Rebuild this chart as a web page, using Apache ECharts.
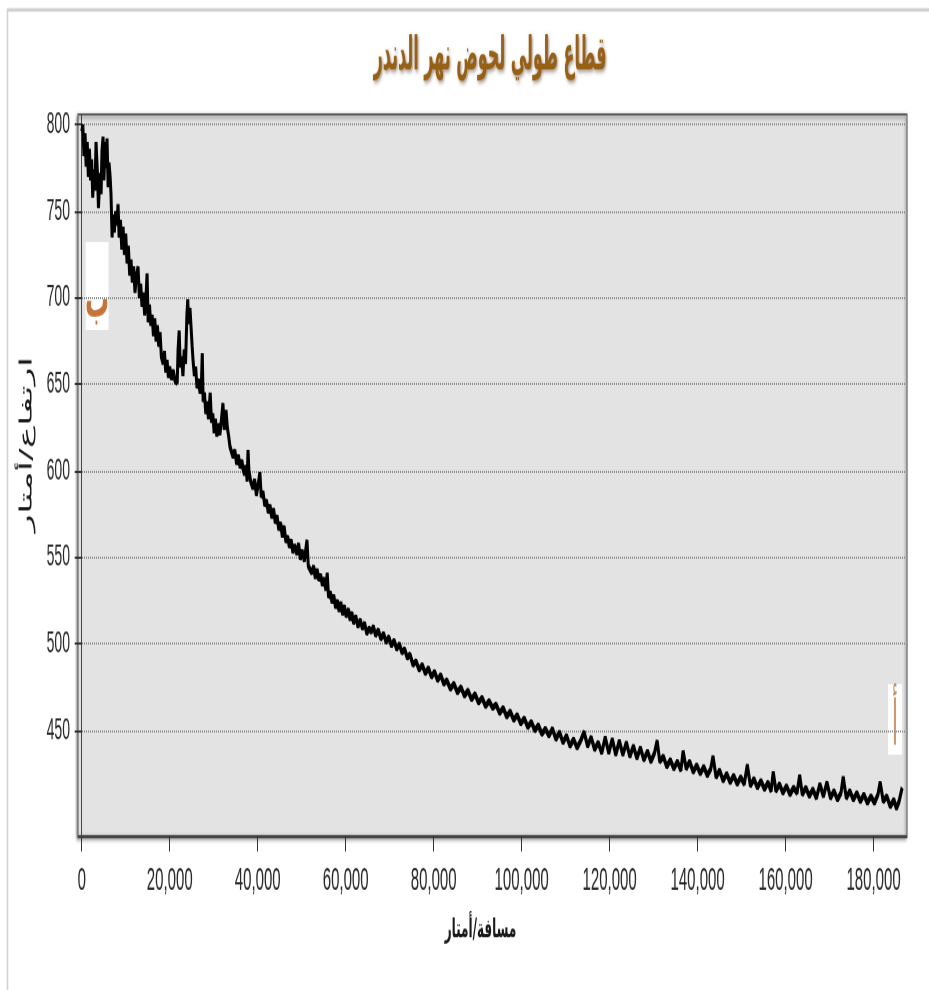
<!DOCTYPE html>
<html>
<head>
<meta charset="utf-8">
<script src="https://cdn.jsdelivr.net/npm/echarts@6/dist/echarts.min.js"></script>
<style>
html, body { margin: 0; padding: 0; background: #fff; }
#wrap { width: 929px; height: 990px; position: relative; }
/* the source picture is stretched vertically, so draw flat and stretch */
#chart { position: absolute; left: 0; top: 0; width: 929px; height: 450px; transform: scaleY(2.2); transform-origin: 0 0; }
</style>
</head>
<body>
<div id="wrap"><div id="chart"></div></div>
<script>
const titleText = 'قطاع طولي لحوض نهر الدندر';
const xName = 'مسافة/أمتار';
const yName = 'ارتفاع/أمتار';
const xTicks = [0, 20000, 40000, 60000, 80000, 100000, 120000, 140000, 160000, 180000];
const yTicks = [450, 500, 550, 600, 650, 700, 750, 800];

// distance along the river (m)
const distance = [
  0, 250, 500, 750, 1000, 1250, 1500, 1750, 2000, 2250, 2500, 2750, 3000, 3250, 3400, 3600, 3800, 3950,
  4150, 4400, 4600, 4850, 5050, 5300, 5500, 5750, 6000, 6200, 6450, 6650, 6900, 7100, 7400, 7700, 8000,
  8250, 8500, 8800, 9100, 9400, 9700, 10000, 10300, 10600, 10900, 11200, 11500, 11800, 12100, 12400,
  12800, 13100, 13400, 13700, 14000, 14300, 14600, 14850, 15100, 15400, 15700, 16000, 16300, 16600,
  16900, 17200, 17500, 17800, 18100, 18500, 18800, 19100, 19400, 19700, 20000, 20400, 20800, 21200,
  21700, 21900, 22150, 22400, 22700, 23000, 23300, 23600, 23900, 24100, 24300, 24600, 25100, 25300,
  25600, 25900, 26200, 26500, 26900, 27200, 27400, 27600, 27900, 28200, 28500, 28800, 29200, 29500,
  29800, 30100, 30400, 30700, 31000, 31400, 31700, 32100, 32400, 32800, 33100, 33400, 33700, 34000,
  34400, 34800, 35200, 35600, 36000, 36400, 36700, 37000, 37300, 37600, 37800, 38000, 38400, 38900,
  39300, 39700, 40100, 40500, 40800, 41200, 41600, 42000, 42400, 42800, 43200, 43600, 44000, 44400,
  44800, 45200, 45600, 46000, 46400, 46800, 47200, 47600, 48000, 48400, 48900, 49300, 49700, 50100,
  50600, 51000, 51200, 51500, 51900, 52300, 52700, 53100, 53500, 53900, 54300, 54700, 55100, 55500,
  55800, 56100, 56500, 56900, 57300, 57700, 58100, 58500, 58900, 59300, 59700, 60100, 60600, 61000,
  61400, 61800, 62300, 62800, 63300, 63800, 64300, 64800, 65300, 65800, 66300, 66800, 67400, 68000,
  68600, 69200, 69800, 70400, 71000, 71600, 72200, 72800, 73400, 74000, 74600, 75300, 76000, 76700,
  77400, 78100, 78800, 79500, 80200, 80900, 81600, 82300, 83000, 83800, 84600, 85400, 86200, 87000,
  87800, 88600, 89400, 90200, 91000, 91800, 92600, 93400, 94200, 95000, 95800, 96600, 97400, 98200,
  99000, 99800, 100600, 101400, 102200, 103000, 103800, 104600, 105400, 106200, 107000, 107800,
  108600, 109400, 110200, 111000, 111800, 112600, 113400, 114200, 115000, 115800, 116600, 117400,
  118200, 119000, 119800, 120600, 121400, 122200, 123000, 123800, 124600, 125400, 126200, 127000,
  127800, 128600, 129400, 130200, 130800, 131400, 132200, 133000, 133800, 134600, 135400, 136200,
  136700, 137400, 138200, 139000, 139800, 140600, 141400, 142200, 143000, 143500, 144200, 145000,
  145800, 146600, 147400, 148200, 149000, 149800, 150600, 151300, 152000, 152800, 153600, 154400,
  155200, 156000, 156700, 157200, 157800, 158600, 159400, 160200, 161000, 161800, 162600, 163200,
  163800, 164600, 165400, 166200, 167000, 167800, 168600, 169400, 170200, 171000, 171800, 172600,
  173100, 173800, 174600, 175400, 176200, 177000, 177800, 178600, 179400, 180200, 181000, 181500,
  182200, 183000, 183800, 184600, 185200, 185800, 186500
];

// elevation (m)
const elevation = [
  796, 800, 782, 795, 776, 790, 770, 786, 768, 780, 758, 774, 762, 790, 792, 770, 752, 750,
  772, 760, 785, 793, 768, 790, 775, 792, 764, 778, 770, 760, 735, 748, 738, 750, 742,
  754, 735, 745, 728, 741, 725, 737, 720, 730, 713, 722, 709, 718, 703, 712,
  718, 700, 708, 695, 703, 690, 700, 714, 686, 696, 684, 690, 678, 688,
  675, 684, 672, 680, 666, 662, 669, 657, 664, 654, 660, 653, 658, 652,
  651, 670, 681, 660, 666, 655, 670, 662, 690, 699, 685, 694, 672, 664,
  655, 660, 648, 653, 645, 650, 668, 640, 645, 633, 640, 630, 645, 628,
  633, 622, 630, 620, 627, 621, 628, 639, 624, 635, 625, 620, 614, 612,
  608, 612, 604, 609, 602, 606, 601, 598, 603, 594, 612, 600, 594, 590,
  595, 586, 592, 599, 585, 588, 580, 583, 576, 580, 573, 578, 570, 574,
  566, 570, 562, 568, 559, 562, 556, 560, 553, 557, 552, 558, 549, 554,
  548, 556, 560, 545, 547, 541, 545, 538, 543, 537, 540, 534, 538, 531,
  541, 527, 530, 524, 528, 521, 525, 519, 524, 517, 522, 516, 520, 514,
  518, 512, 516, 510, 514, 509, 512, 506, 509, 507, 510, 505, 508, 503,
  506, 501, 504, 499, 502, 497, 500, 495, 497, 492, 494, 488, 490, 485,
  488, 483, 486, 481, 484, 479, 482, 477, 479, 474, 477, 472, 475, 470,
  473, 468, 471, 466, 469, 464, 467, 463, 465, 460, 463, 458, 461, 456,
  459, 454, 457, 452, 455, 450, 453, 448, 451, 447, 451, 445,
  449, 443, 447, 441, 445, 440, 444, 449, 441, 446, 439, 443,
  437, 446, 437, 445, 436, 444, 436, 443, 435, 441, 434, 440,
  433, 438, 432, 437, 444, 432, 435, 429, 433, 428, 432, 427,
  438, 428, 432, 426, 430, 425, 429, 424, 428, 435, 423, 427,
  421, 425, 420, 424, 419, 423, 419, 430, 418, 422, 417, 421,
  416, 420, 415, 426, 415, 419, 414, 418, 413, 417, 414, 424,
  413, 417, 412, 416, 411, 419, 412, 420, 411, 415, 410, 414,
  423, 411, 415, 410, 414, 409, 413, 408, 412, 408, 413, 420,
  409, 412, 406, 410, 405, 409, 417
];

const profile = distance.map((d, i) => [d, elevation[i]]);
const numFont = '"Liberation Sans Narrow", "Liberation Sans", Arial, sans-serif';
const arFont = '"DejaVu Sans", sans-serif';

const chart = echarts.init(document.getElementById('chart'), null, { devicePixelRatio: 2 });
chart.setOption({
  animation: false,
  backgroundColor: '#fff',
  grid: {
    left: 78,
    right: 22,
    top: 52,
    bottom: 70,
    show: true,
    backgroundColor: '#e3e3e3',
    borderColor: '#5a5a5a',
    borderWidth: 1,
    shadowColor: 'rgba(0,0,0,0.45)',
    shadowBlur: 2,
    shadowOffsetX: -1,
    shadowOffsetY: 1
  },
  xAxis: {
    type: 'value',
    min: -850,
    max: 187600,
    name: xName,
    nameLocation: 'middle',
    nameGap: 37,
    nameTextStyle: {
      fontFamily: arFont,
      fontSize: 12,
      fontWeight: 'bold',
      color: '#1a1a1a',
      padding: [0, 24, 0, 0]
    },
    axisLine: { show: true, onZero: false, lineStyle: { color: '#444', width: 1 } },
    axisTick: { show: true, length: 7, customValues: xTicks, lineStyle: { color: '#333' } },
    axisLabel: {
      customValues: xTicks,
      margin: 13,
      fontFamily: numFont,
      fontSize: 15,
      color: '#2a2a2a',
      formatter: v => v.toLocaleString('en-US')
    },
    splitLine: { show: false }
  },
  yAxis: {
    type: 'value',
    min: 389,
    max: 806,
    name: yName,
    nameLocation: 'middle',
    nameGap: 40,
    nameRotate: 90,
    nameTextStyle: {
      fontFamily: arFont,
      fontSize: 17,
      color: '#1a1a1a',
      padding: [0, 0, 0, 28]
    },
    axisLine: { show: true, lineStyle: { color: '#444', width: 1 } },
    axisTick: { show: true, length: 7, customValues: yTicks, lineStyle: { color: '#333' } },
    axisLabel: {
      customValues: yTicks,
      margin: 8,
      fontFamily: numFont,
      fontSize: 14,
      color: '#2a2a2a'
    },
    splitLine: { show: true, lineStyle: { color: '#8f8f8f', type: 'dotted', width: 1 } }
  },
  graphic: [
    {
      type: 'rect',
      left: 5, top: 2,
      shape: { width: 930, height: 460 },
      style: { fill: 'none', stroke: '#d0d0d0', lineWidth: 1.5 },
      z: -1
    },
    {
      type: 'text',
      x: 490, y: 26,
      scaleX: 0.76,
      style: {
        text: titleText,
        fontFamily: arFont,
        fontSize: 21,
        fontWeight: 'bold',
        fill: '#966016',
        align: 'center',
        verticalAlign: 'middle',
        textShadowColor: 'rgba(60,30,0,0.5)',
        textShadowBlur: 2,
        textShadowOffsetX: 1,
        textShadowOffsetY: 1
      },
      z: 10
    },
    {
      type: 'group',
      left: 85, top: 110,
      children: [
        { type: 'rect', shape: { width: 23, height: 40 }, style: { fill: '#fff' } },
        { type: 'text', x: 11.5, y: 28, style: { text: 'ب', fontSize: 24, fontWeight: 'bold', fontFamily: arFont, fill: '#c4743a', align: 'center', verticalAlign: 'middle' } }
      ],
      z: 10
    },
    {
      type: 'group',
      left: 888, top: 311,
      children: [
        { type: 'rect', shape: { width: 14, height: 32 }, style: { fill: '#fff' } },
        { type: 'text', x: 7, y: 20, scaleX: 0.7, style: { text: 'أ', fontSize: 28, fontFamily: arFont, fill: '#c98a5e', align: 'center', verticalAlign: 'middle' } }
      ],
      z: 10
    }
  ],
  series: [
    {
      type: 'line',
      data: profile,
      symbol: 'none',
      sampling: null,
      lineStyle: { color: '#000', width: 3 },
      z: 5
    }
  ]
});
</script>
</body>
</html>
